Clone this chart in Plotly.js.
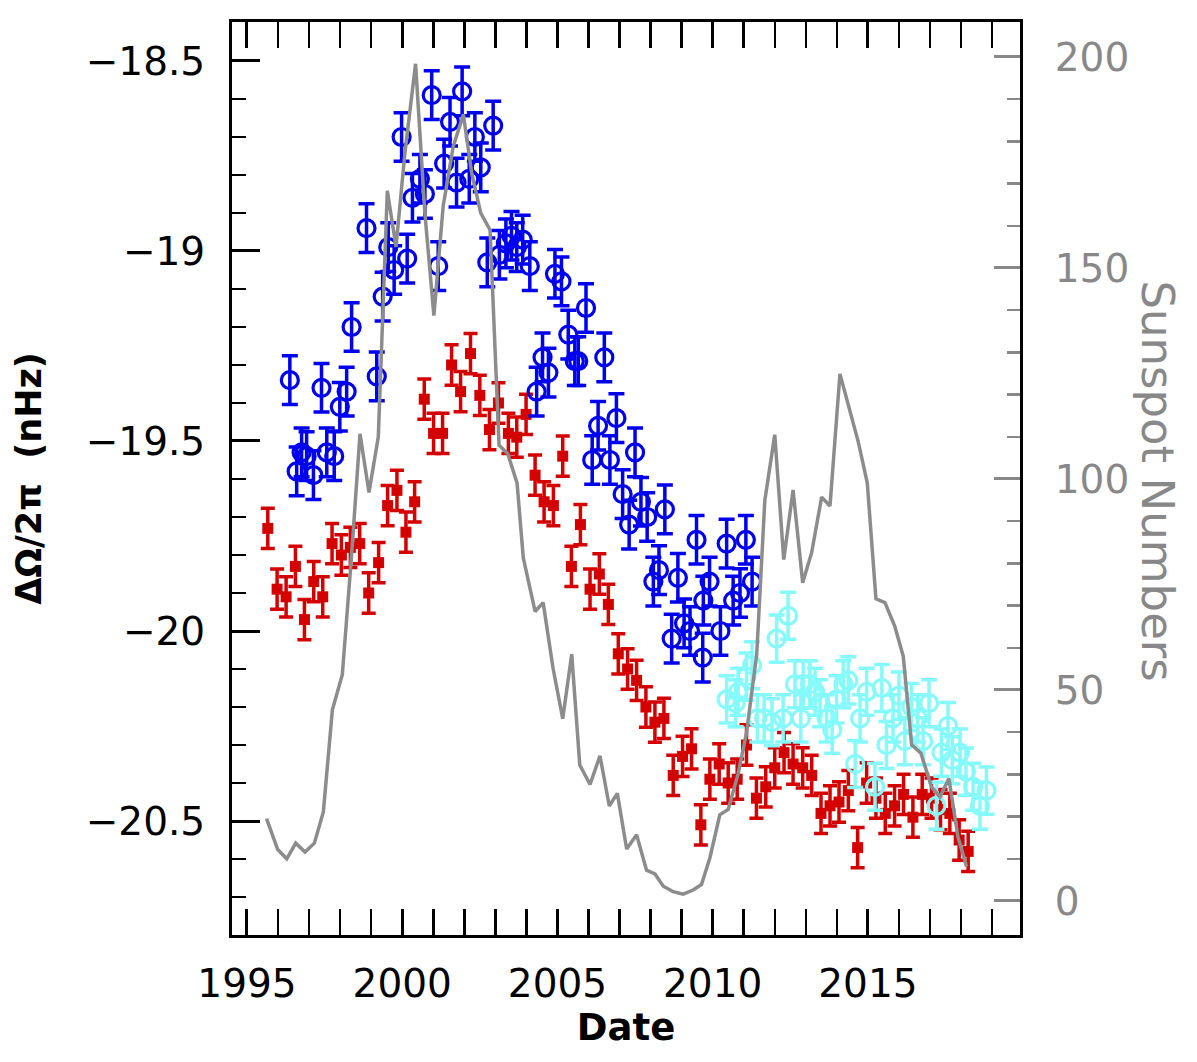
<!DOCTYPE html>
<html>
<head>
<meta charset="utf-8">
<script src="https://cdn.plot.ly/plotly-3.0.1.min.js"></script>
<style>
  body { margin: 0; background: #fff; }
  #chart { width: 1197px; height: 1062px; }
</style>
</head>
<body>
<div id="chart"></div>
<script>
// red squares (108-day bins)
var redYear = [1995.67, 1995.97, 1996.26, 1996.56, 1996.85, 1997.15, 1997.44, 1997.74, 1998.04, 1998.33,
  1998.63, 1998.92, 1999.24, 1999.53, 1999.83, 2000.12, 2000.40, 2000.71, 2001.01, 2001.30,
  2001.59, 2001.88, 2002.20, 2002.50, 2002.81, 2003.10, 2003.42, 2003.69, 2003.99, 2004.28,
  2004.57, 2004.87, 2005.17, 2005.45, 2005.74, 2006.05, 2006.35, 2006.64, 2006.96, 2007.26,
  2007.55, 2007.85, 2008.14, 2008.43, 2008.73, 2009.03, 2009.32, 2009.62, 2009.91, 2010.21,
  2010.50, 2010.79, 2011.09, 2011.41, 2011.71, 2012.00, 2012.30, 2012.59, 2012.90, 2013.19,
  2013.49, 2013.78, 2014.07, 2014.37, 2014.67, 2014.96, 2015.26, 2015.56, 2015.86, 2016.15,
  2016.45, 2016.75, 2017.05, 2017.34, 2017.64, 2017.94, 2018.23]
var redVal = [-19.73, -19.89, -19.91, -19.83, -19.97, -19.87, -19.91, -19.77, -19.80, -19.78,
  -19.77, -19.90, -19.82, -19.67, -19.63, -19.74, -19.66, -19.39, -19.48, -19.48,
  -19.30, -19.37, -19.27, -19.38, -19.47, -19.40, -19.48, -19.49, -19.43, -19.59,
  -19.66, -19.67, -19.54, -19.83, -19.72, -19.89, -19.85, -19.93, -20.06, -20.10,
  -20.13, -20.20, -20.24, -20.23, -20.38, -20.33, -20.31, -20.51, -20.39, -20.35,
  -20.40, -20.39, -20.30, -20.44, -20.41, -20.36, -20.32, -20.35, -20.36, -20.38,
  -20.48, -20.46, -20.45, -20.42, -20.57, -20.40, -20.44, -20.48, -20.46, -20.43,
  -20.49, -20.43, -20.44, -20.47, -20.48, -20.55, -20.58]

// blue open circles
var blueYear = [1996.38, 1996.60, 1996.76, 1996.92, 1997.14, 1997.40, 1997.57, 1997.81, 1997.99, 1998.21,
  1998.37, 1998.85, 1999.18, 1999.37, 1999.55, 1999.74, 1999.98, 2000.16, 2000.33, 2000.57,
  2000.73, 2000.95, 2001.16, 2001.35, 2001.54, 2001.75, 2001.93, 2002.16, 2002.34, 2002.53,
  2002.74, 2002.93, 2003.13, 2003.34, 2003.52, 2003.69, 2003.88, 2004.11, 2004.33, 2004.52,
  2004.71, 2004.92, 2005.13, 2005.35, 2005.56, 2005.67, 2005.92, 2006.12, 2006.31, 2006.51,
  2006.69, 2006.90, 2007.10, 2007.31, 2007.50, 2007.69, 2007.89, 2008.09, 2008.27, 2008.46,
  2008.68, 2008.88, 2009.08, 2009.27, 2009.48, 2009.68, 2009.70, 2009.90, 2010.25, 2010.45,
  2010.66, 2010.88, 2011.07, 2011.27]
var blueVal = [-19.34, -19.58, -19.53, -19.54, -19.59, -19.36, -19.53, -19.54, -19.41, -19.37,
  -19.20, -18.94, -19.33, -19.12, -18.99, -19.05, -18.70, -19.02, -18.86, -18.81,
  -18.85, -18.59, -19.04, -18.77, -18.66, -18.82, -18.58, -18.81, -18.70, -18.78,
  -19.03, -18.67, -19.01, -18.98, -18.96, -18.99, -18.97, -19.04, -19.37, -19.28,
  -19.32, -19.06, -19.08, -19.22, -19.29, -19.29, -19.15, -19.55, -19.46, -19.28,
  -19.55, -19.44, -19.64, -19.72, -19.53, -19.66, -19.70, -19.87, -19.84, -19.68,
  -20.02, -19.86, -19.98, -20.00, -19.76, -20.07, -19.92, -19.87, -20.00, -19.77,
  -19.92, -19.90, -19.76, -19.87]

// cyan open circles
var cyanYear = [2010.45, 2010.74, 2010.82, 2011.09, 2011.27, 2011.44, 2011.66, 2011.91, 2012.06, 2012.27,
  2012.43, 2012.65, 2012.84, 2012.92, 2013.13, 2013.30, 2013.46, 2013.67, 2013.85, 2013.99,
  2014.21, 2014.37, 2014.59, 2014.75, 2014.96, 2015.23, 2015.45, 2015.60, 2015.81, 2016.00,
  2016.19, 2016.40, 2016.61, 2016.78, 2016.97, 2017.21, 2017.37, 2017.58, 2017.72, 2017.97,
  2018.16, 2018.39, 2018.61, 2018.82]
var cyanVal = [-20.18, -20.19, -20.16, -20.12, -20.09, -20.23, -20.23, -20.24, -20.02, -20.23,
  -19.96, -20.14, -20.23, -20.14, -20.14, -20.16, -20.19, -20.23, -20.26, -20.18,
  -20.14, -20.13, -20.35, -20.23, -20.16, -20.41, -20.15, -20.30, -20.23, -20.17,
  -20.29, -20.20, -20.23, -20.29, -20.19, -20.46, -20.32, -20.25, -20.34, -20.32,
  -20.37, -20.41, -20.46, -20.42]

// sunspot numbers (grey line, right axis)
var ssYear = [1995.63, 1995.99, 1996.28, 1996.57, 1996.87, 1997.17, 1997.46, 1997.75, 1998.07, 1998.37,
  1998.64, 1998.93, 1999.23, 1999.52, 1999.80, 2000.09, 2000.43, 2000.73, 2001.02, 2001.32,
  2001.64, 2001.97, 2002.24, 2002.53, 2002.83, 2003.12, 2003.40, 2003.70, 2003.90, 2004.28,
  2004.54, 2004.86, 2005.17, 2005.46, 2005.72, 2006.05, 2006.37, 2006.67, 2006.93, 2007.23,
  2007.55, 2007.87, 2008.14, 2008.41, 2008.73, 2009.05, 2009.37, 2009.64, 2009.91, 2010.23,
  2010.50, 2010.82, 2011.09, 2011.42, 2011.68, 2012.00, 2012.29, 2012.59, 2012.90, 2013.19,
  2013.51, 2013.78, 2014.10, 2014.42, 2014.69, 2014.98, 2015.26, 2015.55, 2015.87, 2016.14,
  2016.41, 2016.71, 2017.05, 2017.32, 2017.61, 2017.90, 2018.18]
var ssVal = [19.5, 12.2, 10.0, 13.7, 11.6, 13.7, 21.1, 45.3, 53.6, 82.0,
  110.7, 96.8, 110.0, 168.3, 155.0, 177.5, 198.4, 163.0, 138.7, 164.7,
  178.7, 186.4, 172.4, 163.0, 159.0, 108.0, 106.0, 99.0, 81.3, 68.6,
  70.7, 55.1, 43.2, 58.5, 32.2, 27.6, 34.4, 22.5, 25.5, 12.3,
  15.7, 7.3, 6.4, 3.5, 2.2, 1.6, 2.6, 3.9, 10.2, 20.4,
  21.7, 30.1, 39.8, 58.5, 94.9, 110.5, 80.9, 97.4, 75.4, 82.6,
  95.7, 93.6, 124.9, 116.0, 108.8, 99.1, 71.6, 70.7, 65.0, 58.0,
  37.0, 35.0, 27.0, 24.7, 29.0, 15.2, 8.1]

var redErr = 0.053
var blueErr = 0.064
var cyanErr = 0.062

var tickFont = { family: 'DejaVu Sans', size: 39, color: '#000' }
var greyFont = { family: 'DejaVu Sans', size: 39, color: '#888888' }

var traces = [
  {
    x: ssYear, y: ssVal, yaxis: 'y2', type: 'scatter', mode: 'lines',
    line: { color: '#8c8c8c', width: 3.5 }, hoverinfo: 'skip'
  },
  {
    x: redYear, y: redVal, type: 'scatter', mode: 'markers',
    marker: { symbol: 'square', size: 11, color: '#d40000' },
    error_y: { type: 'constant', value: redErr, color: '#d40000', thickness: 3.5, width: 7 }
  },
  {
    x: blueYear, y: blueVal, type: 'scatter', mode: 'markers',
    marker: { symbol: 'circle-open', size: 17, color: '#0000f0', line: { width: 3.2 } },
    error_y: { type: 'constant', value: blueErr, color: '#0000f0', thickness: 3.5, width: 8 }
  },
  {
    x: cyanYear, y: cyanVal, type: 'scatter', mode: 'markers',
    marker: { symbol: 'circle-open', size: 17, color: '#86fafa', line: { width: 3.2 } },
    error_y: { type: 'constant', value: cyanErr, color: '#86fafa', thickness: 3.5, width: 8 }
  }
]

var layout = {
  width: 1197,
  height: 1062,
  margin: { l: 232, r: 177, t: 22, b: 127 },
  paper_bgcolor: '#fff',
  plot_bgcolor: '#fff',
  showlegend: false,
  xaxis: {
    range: [1994.517, 2019.9],
    tick0: 1995, dtick: 5,
    ticks: 'inside', ticklen: 26, tickwidth: 3, tickcolor: '#000',
    minor: { dtick: 1, ticks: 'inside', ticklen: 13, tickwidth: 2.5, tickcolor: '#000' },
    showline: true, linecolor: '#000', linewidth: 3, mirror: 'allticks',
    showgrid: false, zeroline: false,
    tickfont: tickFont,
    ticklabelstandoff: 12,
    title: { text: 'Date', font: { family: 'DejaVu Sans', size: 37, color: '#000', weight: 'bold' }, standoff: 6 }
  },
  yaxis: {
    range: [-20.8, -18.3974],
    tick0: -18.5, dtick: 0.5,
    ticks: 'inside', ticklen: 28, tickwidth: 3, tickcolor: '#000',
    minor: { dtick: 0.1, ticks: 'inside', ticklen: 14, tickwidth: 2.5, tickcolor: '#000' },
    showline: true, linecolor: '#000', linewidth: 3,
    showgrid: false, zeroline: false,
    tickfont: tickFont,
    ticklabelstandoff: 16,
    title: { text: 'ΔΩ/2π  (nHz)', font: { family: 'DejaVu Sans', size: 35, color: '#000', weight: 'bold' }, standoff: 34 }
  },
  yaxis2: {
    overlaying: 'y', side: 'right', anchor: 'x',
    range: [-8.06, 208.29],
    tick0: 0, dtick: 50,
    ticks: 'inside', ticklen: 26, tickwidth: 3, tickcolor: '#888888',
    minor: { dtick: 10, ticks: 'inside', ticklen: 13, tickwidth: 2.5, tickcolor: '#888888' },
    showline: true, linecolor: '#000', linewidth: 3,
    showgrid: false, zeroline: false,
    tickfont: greyFont,
    ticklabelstandoff: 24
  },
  annotations: [
    {
      text: 'Sunspot Numbers', xref: 'paper', yref: 'paper',
      x: 1.211, y: 0.497, textangle: 90, showarrow: false,
      font: { family: 'DejaVu Sans', size: 45, color: '#888888', weight: 500 }
    }
  ]
}

Plotly.newPlot('chart', traces, layout, { displayModeBar: false, staticPlot: true })
</script>
</body>
</html>
